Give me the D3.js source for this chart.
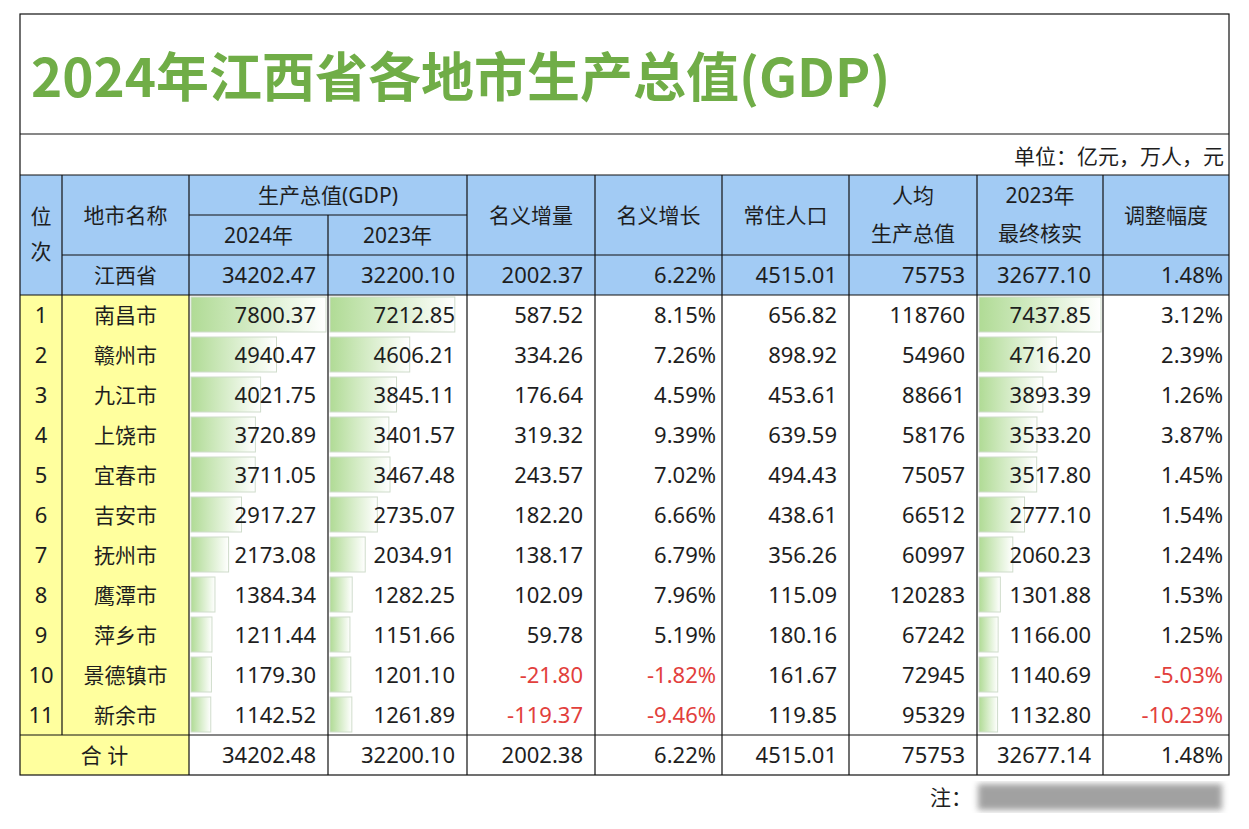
<!DOCTYPE html>
<html>
<head>
<meta charset="utf-8">
<script src="https://cdn.jsdelivr.net/npm/d3@7"></script>
<style>
  body { margin: 0; background: #fff; }
  svg text { font-family: "Noto Sans", "Noto Sans CJK SC", sans-serif; }
</style>
</head>
<body>
<svg id="table" width="1249" height="829"></svg>
<script>
// data
let cities = ["南昌市","赣州市","九江市","上饶市","宜春市","吉安市","抚州市","鹰潭市","萍乡市","景德镇市","新余市"];
let gdp2024 = [7800.37,4940.47,4021.75,3720.89,3711.05,2917.27,2173.08,1384.34,1211.44,1179.30,1142.52];
let gdp2023 = [7212.85,4606.21,3845.11,3401.57,3467.48,2735.07,2034.91,1282.25,1151.66,1201.10,1261.89];
let increase = [587.52,334.26,176.64,319.32,243.57,182.20,138.17,102.09,59.78,-21.80,-119.37];
let growth = [8.15,7.26,4.59,9.39,7.02,6.66,6.79,7.96,5.19,-1.82,-9.46];
let population = [656.82,898.92,453.61,639.59,494.43,438.61,356.26,115.09,180.16,161.67,119.85];
let perCapita = [118760,54960,88661,58176,75057,66512,60997,120283,67242,72945,95329];
let final2023 = [7437.85,4716.20,3893.39,3533.20,3517.80,2777.10,2060.23,1301.88,1166.00,1140.69,1132.80];
let adjust = [3.12,2.39,1.26,3.87,1.45,1.54,1.24,1.53,1.25,-5.03,-10.23];

let provinceRow = [34202.47,32200.10,2002.37,6.22,4515.01,75753,32677.10,1.48];
let totalRow = [34202.48,32200.10,2002.38,6.22,4515.01,75753,32677.14,1.48];

let svg = d3.select('#table');
let locale = d3.formatLocale({decimal: ".", thousands: ",", grouping: [3], currency: ["", ""], minus: "-"});
let f2 = locale.format(".2f");
let fInt = locale.format("d");
let fPct = (v) => f2(v) + "%";

let colX = [20,62,189,328,467,595,722,849,977,1103,1229];
let tableTop = 14, titleBottom = 134, headTop = 175, rowH = 40;
let dataTop = headTop + 3 * rowH;
let y = d3.scaleBand().domain(d3.range(cities.length)).range([dataTop, dataTop + cities.length * rowH]);
let totalTop = dataTop + cities.length * rowH;
let tableBottom = totalTop + rowH;

let headBlue = "#a2cbf4", yellow = "#ffff9e", ink = "#1e1e1e", red = "#e2403c", green = "#70ad47";

// defs for data bar gradient
let defs = svg.append("defs");
let grad = defs.append("linearGradient").attr("id","bar").attr("x1","0").attr("x2","1");
grad.append("stop").attr("offset","0").attr("stop-color","#b0db95");
grad.append("stop").attr("offset","1").attr("stop-color","#ffffff");
defs.append("filter").attr("id","blur").append("feGaussianBlur").attr("stdDeviation", 3);

// title
svg.append("text")
   .attr("x", 31).attr("y", 97)
   .attr("font-size", 53).attr("font-weight", "bold")
   .attr("fill", green)
   .style("font-family", "'Noto Sans CJK SC', sans-serif")
   .text("2024年江西省各地市生产总值(GDP)");

svg.append("text")
   .attr("x", 1224).attr("y", 164)
   .attr("text-anchor", "end").attr("font-size", 21).attr("fill", ink)
   .style("font-family", "'Noto Sans CJK SC', sans-serif")
   .text("单位：亿元，万人，元");

// backgrounds
let bg = svg.append("g");
bg.append("rect").attr("x", colX[0]).attr("y", headTop).attr("width", colX[10]-colX[0]).attr("height", 3*rowH).attr("fill", headBlue);
bg.append("rect").attr("x", colX[0]).attr("y", dataTop).attr("width", colX[2]-colX[0]).attr("height", (cities.length+1)*rowH).attr("fill", yellow);

// data bars
function bars(values, col, maxVal) {
  let x = d3.scaleLinear().domain([0, maxVal]).range([0, colX[col+1]-colX[col]-4]);
  svg.append("g").selectAll("rect").data(values).enter().append("rect")
     .attr("x", colX[col] + 2)
     .attr("y", (d,i) => y(i) + 2)
     .attr("width", d => x(d))
     .attr("height", rowH - 5)
     .attr("fill", "url(#bar)")
     .attr("stroke", "#cfdccb").attr("stroke-width", 1);
}
let gdpMax = d3.max(gdp2024.concat(gdp2023));
bars(gdp2024, 2, gdpMax);
bars(gdp2023, 3, gdpMax);
bars(final2023, 8, d3.max(final2023));

// grid lines
let lines = svg.append("g").attr("stroke", "#111").attr("stroke-width", 1.2).attr("fill", "none");
lines.append("rect").attr("x", colX[0]).attr("y", tableTop).attr("width", colX[10]-colX[0]).attr("height", tableBottom-tableTop);
[titleBottom, headTop, headTop+2*rowH, dataTop, totalTop].forEach(function(yy) {
  let x1 = (yy === headTop+2*rowH) ? colX[1] : colX[0];
  lines.append("line").attr("x1", x1).attr("x2", colX[10]).attr("y1", yy).attr("y2", yy);
});
lines.append("line").attr("x1", colX[2]).attr("x2", colX[4]).attr("y1", headTop+rowH).attr("y2", headTop+rowH);
colX.slice(1, 10).forEach(function(xx, k) {
  let col = k + 1;
  let y1 = headTop;
  if (col === 3) y1 = headTop + rowH;
  let y2 = tableBottom;
  if (col === 1) y2 = totalTop;
  lines.append("line").attr("x1", xx).attr("x2", xx).attr("y1", y1).attr("y2", y2);
});

// header text
let head = svg.append("g").attr("fill", ink).attr("font-size", 21).attr("text-anchor", "middle")
              .style("font-family", "'Noto Sans CJK SC', sans-serif");
function cx(c0, c1) { return (colX[c0] + colX[c1]) / 2; }
head.append("text").attr("x", cx(0,1)).attr("y", 224).text("位");
head.append("text").attr("x", cx(0,1)).attr("y", 259).text("次");
head.append("text").attr("x", cx(1,2)).attr("y", 223).text("地市名称");
head.append("text").attr("x", cx(2,4)).attr("y", 203).text("生产总值(GDP)");
head.append("text").attr("x", cx(2,3)).attr("y", 243).text("2024年");
head.append("text").attr("x", cx(3,4)).attr("y", 243).text("2023年");
head.append("text").attr("x", cx(4,5)).attr("y", 223).text("名义增量");
head.append("text").attr("x", cx(5,6)).attr("y", 223).text("名义增长");
head.append("text").attr("x", cx(6,7)).attr("y", 223).text("常住人口");
head.append("text").attr("x", cx(7,8)).attr("y", 203).text("人均");
head.append("text").attr("x", cx(7,8)).attr("y", 241).text("生产总值");
head.append("text").attr("x", cx(8,9)).attr("y", 203).text("2023年");
head.append("text").attr("x", cx(8,9)).attr("y", 241).text("最终核实");
head.append("text").attr("x", cx(9,10)).attr("y", 223).text("调整幅度");
head.append("text").attr("x", cx(1,2)).attr("y", headTop + 2*rowH + 28).text("江西省");
head.append("text").attr("x", cx(0,2)).attr("y", totalTop + 28).text("合 计");

// numeric cells
let formats = [f2, f2, f2, fPct, f2, fInt, f2, fPct];
let isPct = [false,false,false,true,false,false,false,true];
function numRow(values, yy) {
  values.forEach(function(v, k) {
    let col = k + 2;
    svg.append("text")
       .attr("x", colX[col+1] - (isPct[k] ? 6 : 12))
       .attr("y", yy)
       .attr("text-anchor", "end").attr("font-size", 22)
       .attr("fill", v < 0 ? red : ink)
       .text(formats[k](v));
  });
}
numRow(provinceRow, headTop + 2*rowH + 28);
numRow(totalRow, totalTop + 28);

cities.forEach(function(c, i) {
  let yy = y(i) + 28;
  svg.append("text").attr("x", cx(0,1)).attr("y", yy).attr("text-anchor", "middle")
     .attr("font-size", 22).attr("fill", ink).text(i + 1);
  svg.append("text").attr("x", cx(1,2)).attr("y", yy).attr("text-anchor", "middle")
     .attr("font-size", 21).attr("fill", ink)
     .style("font-family", "'Noto Sans CJK SC', sans-serif").text(c);
  numRow([gdp2024[i], gdp2023[i], increase[i], growth[i], population[i], perCapita[i], final2023[i], adjust[i]], yy);
});

// note (the rest of the note is smudged out in the source)
svg.append("text").attr("x", 930).attr("y", 805).attr("font-size", 21).attr("fill", ink)
   .style("font-family", "'Noto Sans CJK SC', sans-serif").text("注：");
svg.append("rect").attr("x", 978).attr("y", 784).attr("width", 244).attr("height", 26)
   .attr("fill", "#555").attr("opacity", 0.55).attr("filter", "url(#blur)");
</script>
</body>
</html>
